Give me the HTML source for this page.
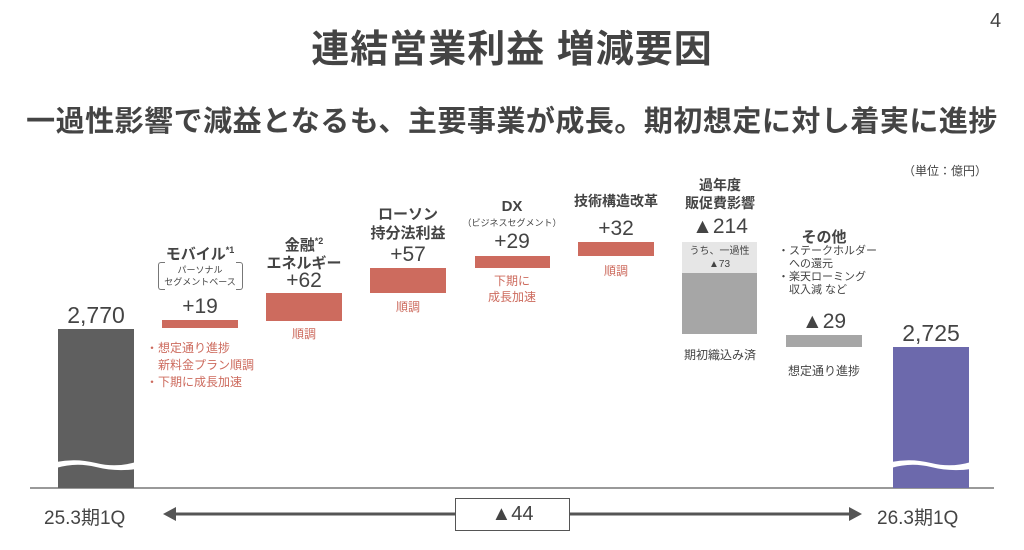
<!DOCTYPE html>
<html><head><meta charset="utf-8"><style>
body{margin:0;width:1024px;height:550px;background:#fff;position:relative;overflow:hidden;font-family:"Liberation Sans","Noto Sans CJK JP",sans-serif;color:#444}
.a{position:absolute}
.c{text-align:center}
.b{font-weight:bold}
.r{color:#cd6b5e}
</style></head><body>
<div class="a b c" style="left:0;width:1024px;top:18px;font-size:38px;color:#444;letter-spacing:1px">連結営業利益 増減要因</div>
<div class="a" style="left:990px;top:10px;font-size:20px">4</div>
<div class="a b c" style="left:0;width:1024px;top:98px;font-size:29px;color:#444;letter-spacing:0.5px">一過性影響で減益となるも、主要事業が成長。期初想定に対し着実に進捗</div>
<div class="a" style="left:903px;top:162px;font-size:12px">（単位：億円）</div>

<div class="a" style="left:30px;top:487px;width:964px;height:2px;background:#999"></div>

<div class="a" style="left:58px;top:329px;width:76px;height:159px;background:#5f5f5f"></div>
<svg class="a" style="left:56px;top:458px" width="80" height="16"><path d="M0 4 Q20 0 40 5 T80 4 L80 11 Q60 14 40 9 T0 10Z" fill="#fff"/></svg>
<div class="a c" style="left:40px;width:112px;top:302px;font-size:23px">2,770</div>

<div class="a" style="left:893px;top:347px;width:76px;height:141px;background:#6c69ac"></div>
<svg class="a" style="left:891px;top:458px" width="80" height="16"><path d="M0 4 Q20 0 40 5 T80 4 L80 11 Q60 14 40 9 T0 10Z" fill="#fff"/></svg>
<div class="a c" style="left:875px;width:112px;top:320px;font-size:23px">2,725</div>

<div class="a b c" style="left:150px;width:100px;top:243px;font-size:15px">モバイル<sup style="font-size:9px">*1</sup></div>
<div class="a c" style="left:160px;top:264px;font-size:9px;line-height:12px;width:80px">パーソナル<br>セグメントベース</div>
<div class="a" style="left:158px;top:262px;width:6px;height:26px;border:1px solid #777;border-right:none;border-radius:3px 0 0 3px"></div>
<div class="a" style="left:236px;top:262px;width:6px;height:26px;border:1px solid #777;border-left:none;border-radius:0 3px 3px 0"></div>
<div class="a c" style="left:150px;width:100px;top:295px;font-size:21px">+19</div>
<div class="a" style="left:162px;top:320px;width:76px;height:8px;background:#cd6b5e"></div>
<div class="a r" style="left:146px;top:340px;font-size:12px;line-height:17px">・想定通り進捗<br>　新料金プラン順調<br>・下期に成長加速</div>

<div class="a b c" style="left:254px;width:100px;top:232px;font-size:15px;line-height:18px">金融<sup style="font-size:9px">*2</sup><br>エネルギー</div>
<div class="a c" style="left:254px;width:100px;top:269px;font-size:21px">+62</div>
<div class="a" style="left:266px;top:293px;width:76px;height:28px;background:#cd6b5e"></div>
<div class="a r c" style="left:254px;width:100px;top:325px;font-size:12px">順調</div>

<div class="a b c" style="left:358px;width:100px;top:205px;font-size:15px;line-height:19px">ローソン<br>持分法利益</div>
<div class="a c" style="left:358px;width:100px;top:243px;font-size:21px">+57</div>
<div class="a" style="left:370px;top:268px;width:76px;height:25px;background:#cd6b5e"></div>
<div class="a r c" style="left:358px;width:100px;top:298px;font-size:12px">順調</div>

<div class="a b c" style="left:462px;width:100px;top:198px;font-size:15px">DX</div>
<div class="a c" style="left:452px;width:120px;top:216px;font-size:9px">（ビジネスセグメント）</div>
<div class="a c" style="left:462px;width:100px;top:230px;font-size:21px">+29</div>
<div class="a" style="left:475px;top:256px;width:75px;height:12px;background:#cd6b5e"></div>
<div class="a r c" style="left:462px;width:100px;top:273px;font-size:12px;line-height:16px">下期に<br>成長加速</div>

<div class="a b c" style="left:556px;width:120px;top:191px;font-size:14px">技術構造改革</div>
<div class="a c" style="left:566px;width:100px;top:217px;font-size:21px">+32</div>
<div class="a" style="left:578px;top:242px;width:76px;height:14px;background:#cd6b5e"></div>
<div class="a r c" style="left:566px;width:100px;top:262px;font-size:12px">順調</div>

<div class="a b c" style="left:670px;width:100px;top:176px;font-size:14px;line-height:18px">過年度<br>販促費影響</div>
<div class="a c" style="left:670px;width:100px;top:215px;font-size:21px">▲214</div>
<div class="a" style="left:682px;top:242px;width:75px;height:31px;background:#e6e6e6"></div>
<div class="a c" style="left:682px;width:75px;top:245px;font-size:10px;line-height:13px">うち、一過性<br>▲73</div>
<div class="a" style="left:682px;top:273px;width:75px;height:61px;background:#a6a6a6"></div>
<div class="a c" style="left:660px;width:120px;top:346px;font-size:12px">期初織込み済</div>

<div class="a b c" style="left:774px;width:100px;top:226px;font-size:15px">その他</div>
<div class="a" style="left:778px;top:245px;font-size:11px;line-height:13px">・ステークホルダー<br>　への還元<br>・楽天ローミング<br>　収入減 など</div>
<div class="a c" style="left:774px;width:100px;top:310px;font-size:21px">▲29</div>
<div class="a" style="left:786px;top:335px;width:76px;height:12px;background:#a6a6a6"></div>
<div class="a c" style="left:764px;width:120px;top:362px;font-size:12px">想定通り進捗</div>

<div class="a" style="left:44px;top:503px;font-size:19px">25.3期1Q</div>
<div class="a" style="left:877px;top:503px;font-size:19px">26.3期1Q</div>
<svg class="a" style="left:160px;top:500px" width="705" height="28"><line x1="12" y1="14" x2="693" y2="14" stroke="#555" stroke-width="3"/><path d="M3 14 L16 7 L16 21Z M702 14 L689 7 L689 21Z" fill="#555"/></svg>
<div class="a c" style="left:455px;top:498px;width:113px;height:31px;border:1px solid #555;background:#fff;font-size:20px;line-height:31px">▲44</div>
</body></html>
